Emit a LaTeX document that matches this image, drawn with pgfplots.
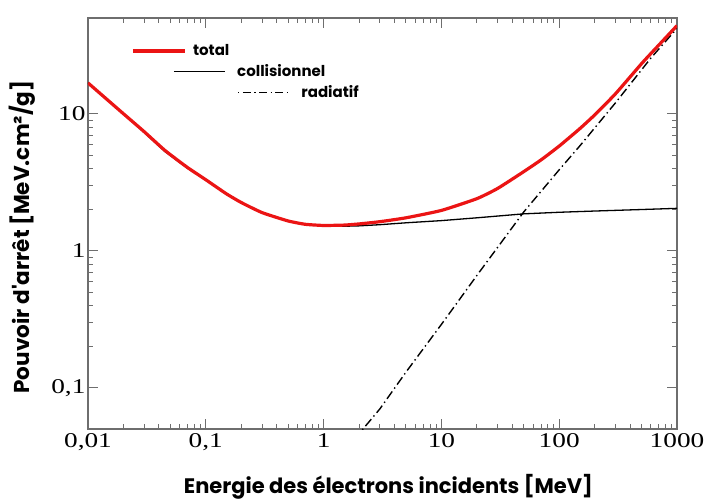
\documentclass[border=0pt]{standalone}
\usepackage{fontspec}
\setmainfont{Liberation Serif}
\newfontfamily\gfont{Poppins}
\newfontfamily\tickf{Liberation Serif}[FakeStretch=1.3]
\usepackage{pgfplots}
\pgfplotsset{compat=1.18}
\usepackage{pgfplotstable}

\pgfplotstableread{
x y
0.01 16.8
0.015 12.4
0.02 10.0
0.03 7.3
0.045 5.3
0.07 4.0
0.1 3.3
0.15 2.6
0.2 2.25
0.3 1.9
0.5 1.65
0.7 1.56
1 1.52
1.5 1.51
2 1.52
3 1.55
5 1.60
10 1.66
20 1.74
50 1.86
100 1.91
200 1.95
500 2.00
1000 2.04
}\coll

\pgfplotstableread{
x y
1.5 0.033
2.16 0.05
3 0.07
5 0.13
10 0.29
20 0.66
50 1.92
100 3.9
150 5.84
300 12.0
600 25.5
1000 42
}\rad

\pgfplotstableread{
x y
0.01 16.8
0.015 12.4
0.02 10.0
0.03 7.4
0.045 5.4
0.07 4.05
0.1 3.3
0.15 2.6
0.2 2.25
0.3 1.9
0.5 1.65
0.7 1.56
1 1.53
1.5 1.54
2 1.57
3 1.63
5 1.74
10 1.97
20 2.40
30 2.85
50 3.78
70 4.6
100 5.81
150 7.8
200 9.8
300 13.97
500 23.2
600 27.5
1000 44
}\total

\definecolor{axgray}{RGB}{110,110,110}
\definecolor{tred}{RGB}{235,20,20}

\begin{document}
\begin{tikzpicture}
\begin{axis}[
  name=ax,
  xmode=log, ymode=log,
  scale only axis,
  width=589pt, height=411pt,
  xmin=0.01, xmax=1000, ymin=0.05, ymax=50,
  xtick={0.01,0.1,1,10,100,1000},
  xticklabels={{\tickf 0,01},{\tickf 0,1},{\tickf 1},{\tickf 10},{\tickf 100},{\tickf 1000}},
  ytick={0.1,1,10},
  yticklabels={{\tickf 0,1},{\tickf 1},{\tickf 10}},
  /pgf/number format/assume math mode=true,
  tick label style={font=\tickf\fontsize{21}{23}\selectfont},
  xticklabel style={yshift=-1pt},
  yticklabel style={xshift=1pt},
  axis line style={axgray, line width=1.4pt},
  major tick length=10pt,
  minor tick length=5pt,
  every tick/.style={axgray, line width=0.9pt},
  xlabel={Energie des électrons incidents [MeV]},
  ylabel={Pouvoir d'arrêt [MeV.cm²/g]},
  xlabel style={font=\gfont\bfseries\fontsize{21}{24}\selectfont, at={(axis description cs:0.51,-0.141)}, anchor=center},
  ylabel style={font=\gfont\bfseries\fontsize{21.5}{24}\selectfont, at={(axis description cs:-0.112,0.467)}, anchor=center},
  clip=true,
]
\addplot[black, line width=1.4pt, dash pattern=on 9pt off 3.5pt on 1.4pt off 3.5pt] table {\rad};
\addplot[black, line width=1.3pt] table {\coll};
\addplot[tred, line width=3.2pt, smooth, tension=0.3] table {\total};

\draw[tred, line width=4pt] (axis description cs:0.076,0.920) -- (axis description cs:0.165,0.920);
\node[anchor=west, font=\gfont\bfseries\fontsize{15}{17}\selectfont, inner sep=0pt] at (axis description cs:0.178,0.922) {total};
\draw[black, line width=1.2pt] (axis description cs:0.146,0.869) -- (axis description cs:0.233,0.869);
\node[anchor=west, font=\gfont\bfseries\fontsize{15}{17}\selectfont, inner sep=0pt] at (axis description cs:0.253,0.871) {collisionnel};
\draw[black, line width=1.2pt, dash pattern=on 1.2pt off 3.5pt on 8pt off 3.5pt] (axis description cs:0.255,0.818) -- (axis description cs:0.340,0.818);
\node[anchor=west, font=\gfont\bfseries\fontsize{15}{17}\selectfont, inner sep=0pt] at (axis description cs:0.362,0.820) {radiatif};
\end{axis}
\pgfresetboundingbox
\path[use as bounding box] ([shift={(-88pt,-73pt)}]ax.south west) rectangle ([shift={(27pt,18pt)}]ax.north east);
\end{tikzpicture}
\end{document}
